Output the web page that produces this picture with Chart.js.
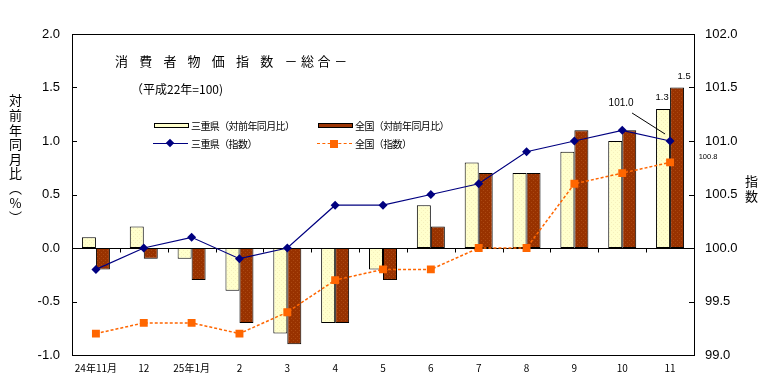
<!DOCTYPE html>
<html lang="ja">
<head>
<meta charset="utf-8">
<title>消費者物価指数 －総合－</title>
<script src="https://cdn.jsdelivr.net/npm/chart.js@4.4.1/dist/chart.umd.min.js"></script>
<style>
  body { margin: 0; background: #fff; }
  #wrap { position: relative; width: 781px; height: 378px; font-family: "Noto Sans CJK JP", sans-serif; color: #000; }
  #myChart { position: absolute; left: 0; top: 0; }
  .txt { position: absolute; white-space: nowrap; line-height: 1; }
  .box { position: absolute; border: 1px solid #000; box-sizing: border-box; }
</style>
</head>
<body>
<div id="wrap">
  <canvas id="myChart" width="781" height="378"></canvas>

  <!-- title -->
  <div class="txt" style="left:115px; top:54px; font-size:13px;"><span style="letter-spacing:11.2px;">消費者物価指数</span><span style="letter-spacing:3.6px;">－総合－</span></div>
  <div class="txt" style="left:131px; top:83px; font-size:12px;">（平成22年=100)</div>

  <!-- legend -->
  <div class="box" style="left:154px; top:123px; width:35px; height:5px; background:#ffffcc;"></div>
  <div class="txt" style="left:191px; top:121px; font-size:10px; letter-spacing:-0.6px;">三重県（対前年同月比）</div>
  <div class="box" style="left:318px; top:123px; width:35px; height:5px; background:#9c3606;"></div>
  <div class="txt" style="left:355px; top:121px; font-size:10px; letter-spacing:-0.6px;">全国（対前年同月比）</div>

  <div style="position:absolute; left:153px; top:143px; width:35px; height:0; border-top:1.5px solid #000080;"></div>
  <div style="position:absolute; left:167px; top:140px; width:6px; height:6px; background:#000080; transform:rotate(45deg);"></div>
  <div class="txt" style="left:191px; top:139px; font-size:10px; letter-spacing:-0.6px;">三重県（指数）</div>
  <div style="position:absolute; left:317px; top:143px; width:35px; height:0; border-top:1.5px dashed #ff6600;"></div>
  <div style="position:absolute; left:330px; top:140px; width:8px; height:8px; background:#ff6600;"></div>
  <div class="txt" style="left:355px; top:139px; font-size:10px; letter-spacing:-0.6px;">全国（指数）</div>

  <!-- axis titles -->
  <div class="txt" style="left:9px; top:94px; font-size:13px; writing-mode:vertical-rl; text-orientation:upright; letter-spacing:1.6px;">対前年同月比（%）</div>
  <div class="txt" style="left:745px; top:175px; font-size:13px; writing-mode:vertical-rl; letter-spacing:1.5px;">指数</div>
</div>

<script>
// categories and values
const categories = ["24年11月", "12", "25年1月", "2", "3", "4", "5", "6", "7", "8", "9", "10", "11"];
const mieYoY = [0.1, 0.2, -0.1, -0.4, -0.8, -0.7, -0.2, 0.4, 0.8, 0.7, 0.9, 1.0, 1.3];
const zenkokuYoY = [-0.2, -0.1, -0.3, -0.7, -0.9, -0.7, -0.3, 0.2, 0.7, 0.7, 1.1, 1.1, 1.5];
const mieIndex = [99.8, 100.0, 100.1, 99.9, 100.0, 100.4, 100.4, 100.5, 100.6, 100.9, 101.0, 101.1, 101.0];
const zenkokuIndex = [99.2, 99.3, 99.3, 99.2, 99.4, 99.7, 99.8, 99.8, 100.0, 100.0, 100.6, 100.7, 100.8];
const leftTicks = [-1.0, -0.5, 0.0, 0.5, 1.0, 1.5, 2.0];
const rightTicks = [99.0, 99.5, 100.0, 100.5, 101.0, 101.5, 102.0];

const canvas = document.getElementById("myChart");
const tickFont = { family: "'Liberation Sans', Arial, sans-serif", size: 13 };

// small dotted fill like the original bars
function makePattern(base, dot) {
  const c = document.createElement("canvas");
  c.width = 4; c.height = 4;
  const g = c.getContext("2d");
  g.fillStyle = base; g.fillRect(0, 0, 4, 4);
  g.fillStyle = dot; g.fillRect(1, 0, 1, 1); g.fillRect(3, 2, 1, 1);
  return g.createPattern(c, "repeat");
}
const creamFill = makePattern("#ffffcc", "#f6f0bc");
const brownFill = makePattern("#983200", "#aa4812");

// frame, zero line, inward ticks and the few value labels
const framePlugin = {
  id: "frame",
  beforeDatasetsDraw(chart) {
    const { ctx, chartArea: a, scales: { x, y } } = chart;
    ctx.save();
    ctx.strokeStyle = "#000";
    ctx.lineWidth = 1;
    const y0 = Math.round(y.getPixelForValue(0)) + 0.5;
    ctx.beginPath();
    ctx.moveTo(a.left, y0); ctx.lineTo(a.right, y0);
    for (let i = 1; i < categories.length; i++) {
      const bx = Math.round((x.getPixelForValue(i - 1) + x.getPixelForValue(i)) / 2) + 0.5;
      ctx.moveTo(bx, y0); ctx.lineTo(bx, y0 + 4);
    }
    ctx.stroke();
    ctx.restore();
  },
  afterDatasetsDraw(chart) {
    const { ctx, chartArea: a, scales: { y, y1 } } = chart;
    ctx.save();
    ctx.strokeStyle = "#000";
    ctx.lineWidth = 1;
    ctx.strokeRect(Math.round(a.left) + 0.5, Math.round(a.top) + 0.5, Math.round(a.right - a.left), Math.round(a.bottom - a.top));
    ctx.beginPath();
    leftTicks.forEach(v => {
      const py = Math.round(y.getPixelForValue(v)) + 0.5;
      ctx.moveTo(a.left, py); ctx.lineTo(a.left + 5, py);
    });
    rightTicks.forEach(v => {
      const py = Math.round(y1.getPixelForValue(v)) + 0.5;
      ctx.moveTo(a.right - 5, py); ctx.lineTo(a.right, py);
    });
    ctx.stroke();

    const last = categories.length - 1;
    const mieBar = chart.getDatasetMeta(2).data[last];
    const zenBar = chart.getDatasetMeta(3).data[last];
    const miePt = chart.getDatasetMeta(0).data[last];
    const zenPt = chart.getDatasetMeta(1).data[last];
    ctx.fillStyle = "#000";
    ctx.textAlign = "center";
    ctx.textBaseline = "middle";
    ctx.font = "9.5px 'Liberation Sans', Arial, sans-serif";
    ctx.fillText(zenkokuYoY[last].toFixed(1), zenBar.x + 7, zenBar.y - 11);
    ctx.fillText(mieYoY[last].toFixed(1), mieBar.x - 1, mieBar.y - 12);
    ctx.font = "10px 'Liberation Sans', Arial, sans-serif";
    ctx.fillText(mieIndex[last].toFixed(1), miePt.x - 49, miePt.y - 38);
    ctx.beginPath();
    ctx.moveTo(miePt.x - 38, miePt.y - 28);
    ctx.lineTo(miePt.x - 5, miePt.y - 7);
    ctx.stroke();
    ctx.font = "7.5px 'Liberation Sans', Arial, sans-serif";
    ctx.fillText(zenkokuIndex[last].toFixed(1), zenPt.x + 38, zenPt.y - 5);
    ctx.restore();
  }
};

const chart = new Chart(canvas, {
  type: "bar",
  data: {
    labels: categories,
    datasets: [
      {
        type: "line",
        label: "三重県（指数）",
        data: mieIndex,
        yAxisID: "y1",
        order: 0,
        borderColor: "#000080",
        backgroundColor: "#000080",
        borderWidth: 1.2,
        pointStyle: "rectRot",
        pointRadius: 4.5,
        pointBorderWidth: 0,
        tension: 0,
      },
      {
        type: "line",
        label: "全国（指数）",
        data: zenkokuIndex,
        yAxisID: "y1",
        order: 1,
        borderColor: "#ff6600",
        backgroundColor: "#ff6600",
        borderWidth: 1.5,
        borderDash: [3, 2],
        pointStyle: "rect",
        pointRadius: 5.6,
        pointBorderWidth: 0,
        tension: 0,
      },
      {
        label: "三重県（対前年同月比）",
        data: mieYoY,
        yAxisID: "y",
        order: 2,
        backgroundColor: creamFill,
        borderColor: "#000",
        borderWidth: 1,
        borderSkipped: false,
        categoryPercentage: 0.585,
        barPercentage: 1.0,
      },
      {
        label: "全国（対前年同月比）",
        data: zenkokuYoY,
        yAxisID: "y",
        order: 3,
        backgroundColor: brownFill,
        borderColor: "#000",
        borderWidth: 1,
        borderSkipped: false,
        categoryPercentage: 0.585,
        barPercentage: 1.0,
      },
    ],
  },
  options: {
    responsive: false,
    animation: false,
    layout: { padding: { top: 34, left: 0, right: 0, bottom: 0 } },
    plugins: {
      legend: { display: false },
      tooltip: { enabled: false },
    },
    scales: {
      x: {
        grid: { display: false, drawTicks: false },
        border: { display: false },
        ticks: {
          color: "#000",
          padding: 7,
          maxRotation: 0,
          autoSkip: false,
          font: { family: "'Noto Sans CJK JP', sans-serif", size: 10 },
        },
        afterFit: s => { s.height = 23; },
      },
      y: {
        position: "left",
        min: -1,
        max: 2,
        grid: { display: false, drawTicks: false },
        border: { display: false },
        ticks: {
          stepSize: 0.5,
          color: "#000",
          padding: 12,
          font: tickFont,
          callback: v => v.toFixed(1),
        },
        afterFit: s => { s.width = 72; },
      },
      y1: {
        position: "right",
        min: 99,
        max: 102,
        grid: { display: false, drawTicks: false },
        border: { display: false },
        ticks: {
          stepSize: 0.5,
          color: "#000",
          padding: 11,
          font: tickFont,
          callback: v => v.toFixed(1),
        },
        afterFit: s => { s.width = 87; },
      },
    },
  },
  plugins: [framePlugin],
});
</script>
</body>
</html>
